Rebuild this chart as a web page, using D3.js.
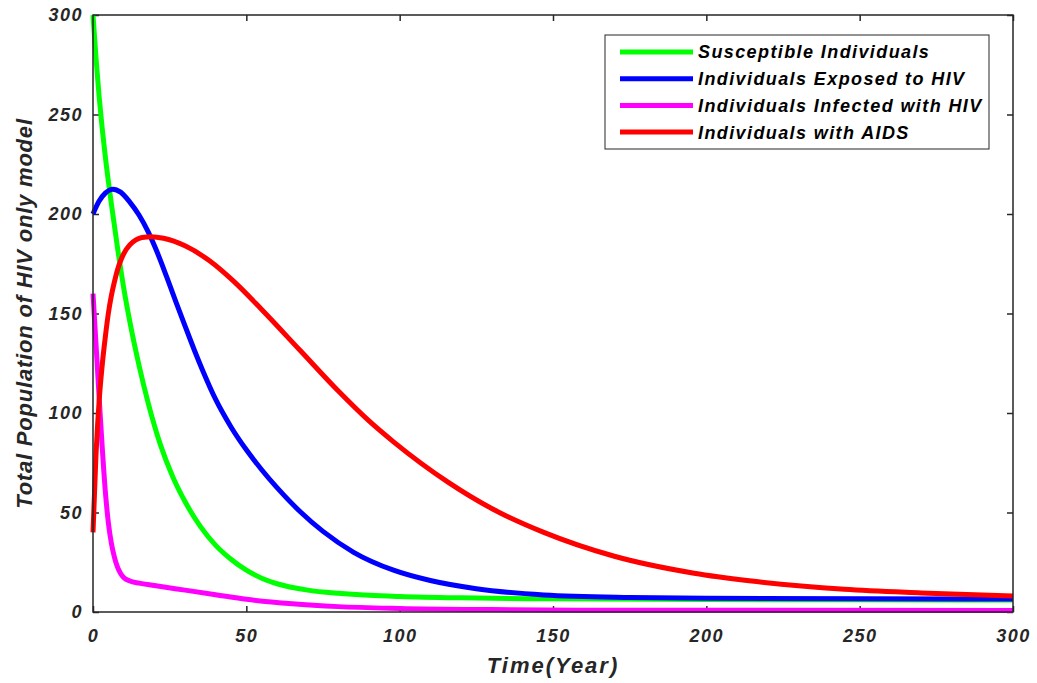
<!DOCTYPE html>
<html>
<head>
<meta charset="utf-8">
<script src="https://cdn.jsdelivr.net/npm/d3@7"></script>
<style>
  body { margin: 0; background: #fff; }
  text { font-family: "Liberation Sans", Arial, sans-serif; font-weight: bold; font-style: italic; fill: #262626; }
</style>
</head>
<body>
<div id="chart"></div>
<script>
// values: [time, population]
const susceptible = [[0,300],[1,278],[2,259],[3,243],[4,229],[6,205],[8,183],[10,163],[12,146],[15,124],[18,105],[22,84],[26,68],[30,55.5],[35,43],[40,33.5],[45,26.5],[50,21],[55,17],[60,14.2],[70,11],[80,9.4],[90,8.4],[100,7.8],[120,7.1],[150,6.6],[200,6.3],[250,6.1],[300,6]];
const exposed = [[0,200],[2,206.5],[4,210.5],[6.5,212.5],[9,211],[12,206],[15,199.5],[18,191],[21,180.5],[24,168.5],[27,156],[30,143.8],[33,131.8],[36,120.5],[40,106.8],[45,93],[50,81.5],[55,71.5],[60,62.5],[67.5,50.5],[75,40.5],[85,30],[98,21],[110,15.8],[125,11.7],[147,8.6],[175,7.3],[200,6.9],[250,6.6],[300,6.5]];
const infected = [[0,160],[1,134],[2,108],[3,83],[4,61],[5,45],[6,34.5],[7,27.5],[8,22.5],[9,19.3],[10,17.3],[12,15.6],[15,14.5],[20,13.3],[30,11],[40,8.7],[50,6.4],[65,4.1],[80,2.7],[100,1.8],[130,1.2],[170,0.9],[300,0.8]];
const aids = [[0,40],[1,80],[1.5,94],[2,106],[3,124],[4,138],[5,150],[6,159],[7,166],[8,172],[9,176.5],[10,180],[12,184.5],[14,187],[16,188.2],[19,188.6],[23,187.8],[30,184],[38,176.5],[46,166],[55,152],[67.5,131.5],[80,111],[90,96],[98,85.5],[116,65],[130,52],[147,40],[170,28],[196,19.5],[214,15.7],[245,11.4],[270,9.6],[300,8]];

const seriesNames = ["Susceptible Individuals", "Individuals Exposed to HIV", "Individuals Infected with HIV", "Individuals with AIDS"];
const seriesColors = ["#00ff00", "#0000ff", "#ff00ff", "#ff0000"];
const xTicks = [0, 50, 100, 150, 200, 250, 300];
const yTicks = [0, 50, 100, 150, 200, 250, 300];

const width = 1037, height = 683;
const margin = {top: 15, right: 24, bottom: 71, left: 93};
const innerW = width - margin.left - margin.right;
const innerH = height - margin.top - margin.bottom;

const svg = d3.select("#chart").append("svg")
    .attr("width", width)
    .attr("height", height);

const g = svg.append("g")
    .attr("transform", `translate(${margin.left},${margin.top})`);

const x = d3.scaleLinear().domain([0, 300]).range([0, innerW]);
const y = d3.scaleLinear().domain([0, 300]).range([innerH, 0]);

// axes with inward ticks, MATLAB style
const axisColor = "#262626";
function styleAxis(sel) {
    sel.select(".domain").remove();
    sel.selectAll("line").attr("stroke", axisColor).attr("stroke-width", 1.5);
    sel.selectAll("text")
        .style("font-size", "18px")
        .style("letter-spacing", "1.5px");
}

g.append("g")
    .attr("transform", `translate(0,${innerH})`)
    .call(d3.axisBottom(x).tickValues(xTicks).tickSizeInner(-6).tickSizeOuter(0).tickPadding(17))
    .call(styleAxis);

g.append("g")
    .call(d3.axisTop(x).tickValues(xTicks).tickSizeInner(-6).tickSizeOuter(0).tickFormat(""))
    .call(styleAxis);

g.append("g")
    .call(d3.axisLeft(y).tickValues(yTicks).tickSizeInner(-6).tickSizeOuter(0).tickPadding(10))
    .call(styleAxis);

g.append("g")
    .attr("transform", `translate(${innerW},0)`)
    .call(d3.axisRight(y).tickValues(yTicks).tickSizeInner(-6).tickSizeOuter(0).tickFormat(""))
    .call(styleAxis);

// lines
const line = d3.line()
    .x(d => x(d[0]))
    .y(d => y(d[1]))
    .curve(d3.curveMonotoneX);

const allSeries = [susceptible, exposed, infected, aids];
g.append("g").selectAll("path")
    .data(allSeries)
    .enter().append("path")
    .attr("d", line)
    .attr("fill", "none")
    .attr("stroke", (d, i) => seriesColors[i])
    .attr("stroke-width", 5);

// frame
g.append("rect")
    .attr("width", innerW)
    .attr("height", innerH)
    .attr("fill", "none")
    .attr("stroke", axisColor)
    .attr("stroke-width", 1.5);

// axis titles
svg.append("text")
    .attr("x", margin.left + innerW / 2)
    .attr("y", 673)
    .attr("text-anchor", "middle")
    .style("font-size", "22px")
    .style("letter-spacing", "2px")
    .text("Time(Year)");

svg.append("text")
    .attr("transform", `translate(32,${margin.top + innerH / 2}) rotate(-90)`)
    .attr("text-anchor", "middle")
    .style("font-size", "22px")
    .style("letter-spacing", "0.8px")
    .text("Total Population of HIV only model");

// legend
const legend = svg.append("g").attr("transform", "translate(605,35)");
legend.append("rect")
    .attr("width", 384)
    .attr("height", 114)
    .attr("fill", "#fff")
    .attr("stroke", axisColor)
    .attr("stroke-width", 1);

const rows = legend.selectAll("g.row")
    .data(seriesNames)
    .enter().append("g")
    .attr("class", "row")
    .attr("transform", (d, i) => `translate(0,${17 + i * 26.7})`);

rows.append("line")
    .attr("x1", 15).attr("x2", 88)
    .attr("stroke", (d, i) => seriesColors[i])
    .attr("stroke-width", 5);

rows.append("text")
    .attr("x", 93)
    .attr("dy", "0.36em")
    .style("font-size", "18px")
    .style("letter-spacing", "1.4px")
    .style("fill", "#000")
    .text(d => d);
</script>
</body>
</html>
